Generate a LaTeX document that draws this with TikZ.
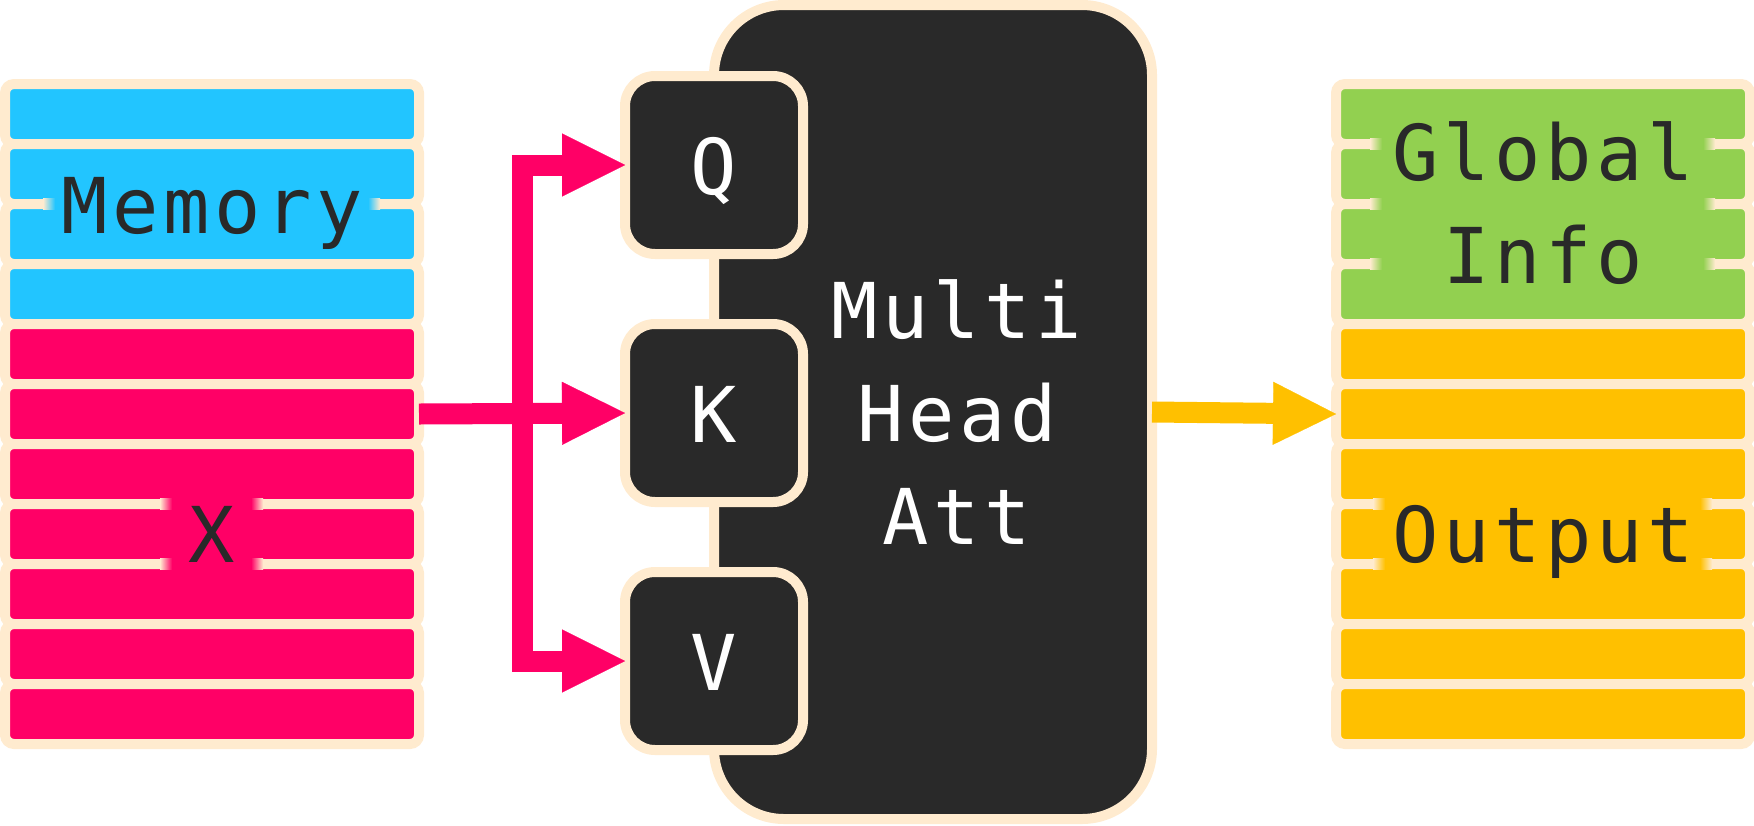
\documentclass[tikz,border=0pt]{standalone}
\usepackage{fontspec}
\usetikzlibrary{arrows.meta,calc}
\newfontfamily\labfont[LetterSpace=6]{DejaVu Sans Mono}
\newcommand\tagfont{\labfont\fontsize{38.5pt}{51.5pt}\selectfont}
\definecolor{cream}{HTML}{FFEBCF}
\definecolor{memblue}{HTML}{22C5FF}
\definecolor{xpink}{HTML}{FF0066}
\definecolor{infogreen}{HTML}{92D050}
\definecolor{outyellow}{HTML}{FFC000}
\definecolor{boxdark}{HTML}{292929}
\newcommand\gapfade[4]{%
    \fill[#4] (#1+12, #3-5.5) rectangle (#2-12, #3+5.5);
    \shade[left color=cream, right color=#4] (#1, #3-5.5) rectangle (#1+12, #3+5.5);
    \shade[left color=#4, right color=cream] (#2-12, #3-5.5) rectangle (#2, #3+5.5);}
\tikzset{bigtip/.tip={Triangle[length=31.5pt, width=31.5pt, line width=0.1pt]}}
\begin{document}
\begin{tikzpicture}[x=0.5pt, y=-0.5pt,
        stackbar/.style={draw=cream, line width=5pt, rounded corners=4.5pt, minimum width=207pt, minimum height=30pt, inner sep=0pt, outer sep=0pt},
        stacklabel/.style={inner xsep=10pt, inner ysep=3pt, text=boxdark, font=\tagfont},
        oneline/.style={text height=30pt, text depth=9pt},
        qkv/.style={draw=cream, fill=boxdark, line width=5pt, rounded corners=15pt, minimum size=89pt, inner sep=0pt, outer sep=0pt, text=white, font=\tagfont, text height=29pt, text depth=0pt},
        flow/.style={line width=10.5pt, line join=miter, -{bigtip}}]
    \useasboundingbox (0,0) rectangle (1754,825);
    \foreach \i in {0,...,10} {
        \ifnum\i<4 \def\lc{memblue}\def\rc{infogreen}\else \def\lc{xpink}\def\rc{outyellow}\fi
        \node[stackbar, fill=\lc] (l\i) at (212, 114 + 60*\i) {};
        \node[stackbar, fill=\rc] (r\i) at (1543, 114 + 60*\i) {};
    }
    \gapfade{43}{380}{204}{memblue}
    \foreach \y in {504,564} {
        \gapfade{160}{263}{\y}{xpink}
        \gapfade{1373}{1712}{\y}{outyellow}
    }
    \foreach \y in {144,204,264}
        \gapfade{1370}{1715}{\y}{infogreen};
    \node[stacklabel, oneline, anchor=base] (mem) at (212, 233) {Memory};
    \node[stacklabel, oneline, anchor=base] (xin) at (212, 562) {X};
    \node[stacklabel, align=center] (glob) at (1543, 203.5) {Global\\Info};
    \node[stacklabel, oneline, anchor=base] (out) at (1543, 562) {Output};

    \node[draw=cream, fill=boxdark, line width=5pt, rounded corners=35pt, minimum width=219pt, minimum height=407pt, inner sep=0pt, outer sep=0pt] (att) at (933, 412) {};
    \node[text=white, font=\tagfont, align=center] (mha) at (957, 412.5) {Multi\\Head\\Att};
    \node[qkv] (q) at (714, 165) {Q};
    \node[qkv] (k) at (714, 413) {K};
    \node[qkv] (v) at (714, 661) {V};

    \coordinate (fork) at ($(l5.east)!0.5!(k.west)$);
    \draw[flow, xpink] (l5.east) -- (k.west);
    \draw[flow, xpink, {bigtip}-{bigtip}] (q.west) -| (fork) |- (v.west);
    \draw[flow, outyellow] (att.east) -- (r5.west);
\end{tikzpicture}
\end{document}
